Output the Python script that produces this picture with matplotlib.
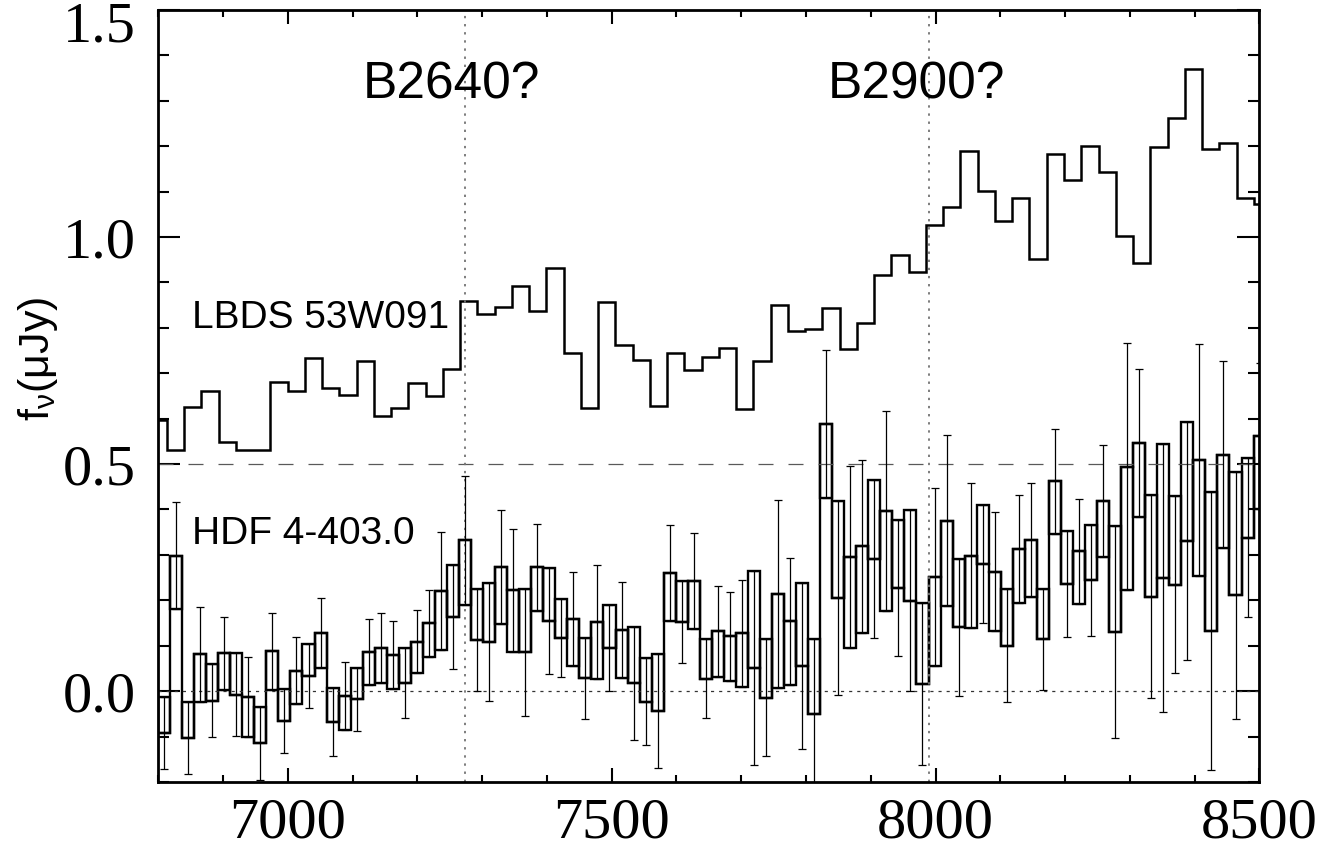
import numpy as np
import matplotlib
matplotlib.use('Agg')
import matplotlib.pyplot as plt
import matplotlib.transforms as mtransforms
from matplotlib.ticker import MultipleLocator, FixedFormatter

plt.rcParams['mathtext.fontset'] = 'custom'
plt.rcParams['mathtext.rm'] = 'Liberation Sans'
plt.rcParams['mathtext.it'] = 'Liberation Sans'

# LBDS 53W091 spectrum (upper curve), binned
lbds_start = 6786.4   # left edge of first bin (A)
lbds_dw = 26.64       # bin width (A)
lbds_flux = [0.597, 0.530, 0.625, 0.661, 0.548, 0.531, 0.531, 0.680, 0.662, 0.734,
             0.667, 0.652, 0.727, 0.606, 0.623, 0.679, 0.649, 0.710, 0.860, 0.830,
             0.847, 0.892, 0.838, 0.931, 0.744, 0.624, 0.856, 0.762, 0.729, 0.628,
             0.744, 0.707, 0.735, 0.755, 0.622, 0.728, 0.851, 0.792, 0.797, 0.844,
             0.753, 0.810, 0.916, 0.960, 0.922, 1.026, 1.066, 1.189, 1.101, 1.035,
             1.085, 0.951, 1.182, 1.125, 1.201, 1.143, 1.002, 0.943, 1.198, 1.262,
             1.369, 1.193, 1.208, 1.087, 1.072]

# HDF 4-403.0 spectrum (lower curve), flux and 1 sigma error per bin
hdf_start = 6799.5
hdf_dw = 18.588
hdf_flux = [-0.092, 0.298, -0.103, 0.081, -0.021, 0.083, -0.008, -0.012, -0.115, 0.088,
            -0.066, 0.045, 0.033, 0.128, -0.068, -0.011, -0.018, 0.086, 0.095, 0.079,
            0.018, 0.109, 0.149, 0.220, 0.163, 0.332, 0.112, 0.108, 0.273, 0.222,
            0.086, 0.273, 0.154, 0.118, 0.159, 0.028, 0.152, 0.095, 0.134, 0.017,
            -0.023, -0.044, 0.260, 0.152, 0.242, 0.027, 0.132, 0.121, 0.127, 0.051,
            -0.014, 0.215, 0.154, 0.056, -0.050, 0.589, 0.205, 0.296, 0.319, 0.290,
            0.397, 0.227, 0.199, 0.015, 0.251, 0.375, 0.141, 0.298, 0.279, 0.263,
            0.100, 0.313, 0.333, 0.114, 0.462, 0.236, 0.308, 0.244, 0.418, 0.130,
            0.494, 0.546, 0.208, 0.250, 0.234, 0.330, 0.509, 0.132, 0.521, 0.211,
            0.338, 0.562]
hdf_err = [0.080, 0.118, 0.080, 0.105, 0.081, 0.080, 0.091, 0.088, 0.080, 0.085,
           0.070, 0.074, 0.070, 0.077, 0.075, 0.075, 0.070, 0.072, 0.077, 0.075,
           0.077, 0.070, 0.073, 0.130, 0.114, 0.142, 0.112, 0.130, 0.126, 0.135,
           0.140, 0.096, 0.117, 0.086, 0.103, 0.090, 0.125, 0.095, 0.106, 0.125,
           0.096, 0.125, 0.105, 0.090, 0.106, 0.087, 0.100, 0.098, 0.118, 0.214,
           0.129, 0.207, 0.140, 0.183, 0.165, 0.163, 0.213, 0.200, 0.190, 0.174,
           0.220, 0.150, 0.199, 0.178, 0.196, 0.188, 0.151, 0.160, 0.130, 0.131,
           0.125, 0.118, 0.125, 0.111, 0.116, 0.117, 0.116, 0.122, 0.123, 0.234,
           0.272, 0.163, 0.224, 0.295, 0.195, 0.262, 0.255, 0.306, 0.205, 0.272,
           0.175, 0.160]
# which half of the error bar is drawn as a box (+1 above flux, -1 below)
hdf_side = [1, -1, 1, -1, 1, -1, 1, -1, 1, -1,
            1, -1, 1, -1, 1, -1, 1, -1, -1, -1,
            1, -1, -1, -1, 1, -1, 1, 1, -1, -1,
            1, -1, 1, 1, -1, 1, -1, 1, -1, 1,
            1, 1, -1, 1, -1, 1, -1, -1, -1, 1,
            1, -1, -1, 1, 1, -1, 1, -1, -1, 1,
            -1, 1, 1, 1, -1, -1, 1, -1, 1, -1,
            1, -1, -1, 1, -1, 1, -1, 1, -1, 1,
            -1, -1, 1, 1, 1, 1, -1, 1, -1, 1,
            1, -1]

z_lines = [7273, 7990]
z_labels = ['B2640?', 'B2900?']
yticks = [0.0, 0.5, 1.0, 1.5]
ytick_labels = ['0.0', '0.5', '1.0', '1.5']

lbds_flux = np.array(lbds_flux)
lbds_edges = lbds_start + lbds_dw * np.arange(len(lbds_flux) + 1)
hdf_flux = np.array(hdf_flux)
hdf_err = np.array(hdf_err)
hdf_side = np.array(hdf_side)
hdf_edges = hdf_start + hdf_dw * np.arange(len(hdf_flux) + 1)
hdf_cen = hdf_edges[:-1] + hdf_dw / 2

fig = plt.figure(figsize=(13.24, 8.52), dpi=100)
ax = fig.add_axes([0.1196, 0.0822, 0.8316, 0.9061])

# reference lines
ax.axhline(0.5, color='0.35', lw=0.9, dashes=(12, 12))
ax.axhline(0.0, color='0.2', lw=0.9, dashes=(2.5, 4))
for xl in z_lines:
    ax.axvline(xl, color='0.45', lw=1.3, dashes=(1.3, 3.2))

# upper spectrum
ax.stairs(lbds_flux, lbds_edges, color='k', lw=1.8)

# lower spectrum: step line, half-error boxes and error bars
box_bot = np.where(hdf_side > 0, hdf_flux, hdf_flux - hdf_err)
ax.bar(hdf_cen, hdf_err, bottom=box_bot, width=hdf_dw, fill=False,
       edgecolor='k', linewidth=1.7)
ax.stairs(hdf_flux, hdf_edges, color='k', lw=1.7)
ax.errorbar(hdf_cen, hdf_flux, yerr=hdf_err, fmt='none', ecolor='k',
            elinewidth=0.9, capsize=2.8, capthick=0.9)

# labels
for xl, lab in zip(z_lines, z_labels):
    ax.text(xl - 20, 1.334, lab, ha='center', va='center', fontsize=37,
            family='Liberation Sans')
ax.text(6852, 0.821, 'LBDS 53W091', ha='left', va='center', fontsize=28,
        family='Liberation Sans')
ax.text(6852, 0.345, 'HDF 4-403.0', ha='left', va='center', fontsize=28,
        family='Liberation Sans')

ax.set_xlim(6800, 8500)
ax.set_ylim(-0.2, 1.5)
ax.set_xticks([7000, 7500, 8000, 8500])
ax.xaxis.set_minor_locator(MultipleLocator(100))
ax.set_yticks(yticks)
ax.yaxis.set_minor_locator(MultipleLocator(0.1))
# top label is drawn by hand below so it is not clipped by the figure edge
ax.yaxis.set_major_formatter(FixedFormatter(ytick_labels[:-1] + ['']))

ax.tick_params(which='both', direction='in', top=True, right=True, width=1.5,
               labelsize=42)
ax.tick_params(axis='x', which='major', length=10, pad=11)
ax.tick_params(axis='x', which='minor', length=5)
ax.tick_params(axis='y', which='major', length=16, pad=16)
ax.tick_params(axis='y', which='minor', length=8)
for lab in ax.get_xticklabels() + ax.get_yticklabels():
    lab.set_family('Liberation Serif')
for sp in ax.spines.values():
    sp.set_linewidth(2.0)

trans = mtransforms.blended_transform_factory(ax.transAxes, ax.transData)
ax.text(-0.0205, yticks[-1] + 0.018, ytick_labels[-1], transform=trans,
        ha='right', va='top', fontsize=42, family='Liberation Serif')

ax.set_ylabel(r'f$_{\mathrm{\nu}}$(μJy)', fontsize=31, family='Liberation Sans')
ax.yaxis.set_label_coords(-0.089, 0.548)

fig.savefig('out.png', dpi=100)
